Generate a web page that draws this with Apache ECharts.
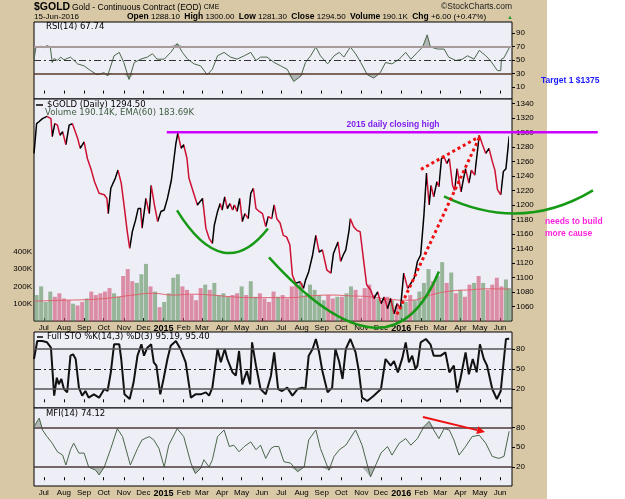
<!DOCTYPE html>
<html>
<head>
<meta charset="utf-8">
<script src="https://cdn.jsdelivr.net/npm/echarts@6/dist/echarts.min.js"></script>
<style>
  html, body { margin: 0; padding: 0; background: #fff; }
  #chart {
    width: 625px; height: 499px;
    background: linear-gradient(to right, #d8c8a6 0, #d8c8a6 547px, #ffffff 547px);
  }
</style>
</head>
<body>
<div id="chart"></div>
<script>
const DAY = 86400000
const BASE = Date.UTC(2014, 5, 16)   // day 0 = left edge of the plots
const day = d => BASE + d * DAY

const monthNames = ['Jan', 'Feb', 'Mar', 'Apr', 'May', 'Jun', 'Jul', 'Aug', 'Sep', 'Oct', 'Nov', 'Dec']
const monthTicks = []
for (let y = 2014, m = 6; y < 2016 || m <= 5;) {
  monthTicks.push(Date.UTC(y, m, 1))
  m++
  if (m > 11) { m = 0; y++ }
}

// [day offset, close]
const price = [
  [0, 1271], [4, 1312], [8, 1315], [13, 1319], [20, 1322], [26, 1319], [28, 1294], [32, 1312], [36, 1310], [40, 1296],
  [44, 1301], [49, 1283], [54, 1310], [59, 1312], [62, 1310], [67, 1292], [71, 1278], [74, 1280], [77, 1287], [82, 1264],
  [88, 1248], [93, 1232], [100, 1216], [108, 1214], [112, 1209], [114, 1188], [118, 1223], [125, 1237], [129, 1248], [134, 1230],
  [139, 1195], [143, 1165], [147, 1140], [151, 1163], [156, 1179], [160, 1195], [164, 1195], [166, 1168], [172, 1209], [177, 1188],
  [180, 1227], [185, 1200], [190, 1177], [195, 1191], [200, 1193], [205, 1209], [211, 1234], [218, 1285], [221, 1299], [226, 1278],
  [230, 1283], [235, 1264], [238, 1237], [246, 1214], [251, 1200], [259, 1209], [264, 1168], [269, 1154], [274, 1147], [277, 1172],
  [282, 1191], [286, 1202], [289, 1193], [293, 1211], [297, 1195], [301, 1202], [305, 1193], [308, 1200], [312, 1191], [316, 1209],
  [320, 1177], [324, 1188], [329, 1181], [333, 1216], [337, 1223], [341, 1195], [346, 1191], [351, 1188], [356, 1170], [360, 1184],
  [365, 1181], [369, 1200], [373, 1181], [378, 1175], [383, 1158], [388, 1156], [393, 1145], [397, 1103], [402, 1092], [409, 1094],
  [414, 1085], [417, 1096], [422, 1108], [428, 1131], [433, 1158], [438, 1135], [443, 1138], [450, 1110], [456, 1106], [460, 1133],
  [467, 1149], [471, 1122], [475, 1131], [479, 1138], [484, 1165], [486, 1181], [491, 1170], [496, 1165], [501, 1163], [506, 1126],
  [511, 1090], [517, 1083], [522, 1071], [528, 1080], [533, 1064], [538, 1073], [543, 1057], [548, 1071], [553, 1050], [558, 1064],
  [563, 1057], [568, 1106], [574, 1085], [579, 1092], [584, 1099], [589, 1122], [594, 1131], [599, 1186], [603, 1244], [607, 1200],
  [610, 1227], [614, 1211], [619, 1232], [622, 1225], [626, 1264], [630, 1266], [634, 1257], [638, 1264], [643, 1227], [646, 1220],
  [650, 1250], [656, 1218], [660, 1237], [663, 1250], [668, 1230], [672, 1248], [677, 1241], [684, 1296], [689, 1283], [694, 1271],
  [699, 1278], [704, 1260], [708, 1248], [712, 1221], [717, 1214], [721, 1246], [725, 1250], [730, 1294.5]
]

// weekly volume (thousands), Fridays from 20-Jun-2014, last bar 15-Jun-2016
const volumeK = [
  150, 200, 110, 170, 140, 160, 130, 120,
  100, 90, 110, 130, 170, 150, 160,
  170, 190, 160, 140, 260, 300,
  230, 220, 270, 330, 200, 170, 80,
  110, 160, 250, 270, 200, 180,
  150, 120, 190, 210, 180, 220, 150,
  160, 140, 150, 160, 200, 150, 230, 140, 160, 130,
  110, 170, 140, 150, 130, 200, 210,
  220, 150, 210, 180, 150, 120, 150, 130, 140,
  140, 160, 200, 180, 130, 190,
  210, 150, 130, 120, 140, 120, 90, 90,
  110, 150, 120, 170, 220, 300, 230, 260,
  340, 220, 280, 160, 180, 140, 210, 220,
  260, 220, 180, 210, 250, 200, 240, 190
]
const volumeDays = volumeK.map((v, i) => i < volumeK.length - 1 ? 4 + 7 * i : 730)

// EMA(60) of volume, thousands
const volEma = [
  [0, 115], [46, 120], [91, 125], [121, 135], [152, 150], [182, 160], [213, 150], [244, 155], [272, 150], [303, 140],
  [333, 135], [364, 135], [394, 135], [425, 145], [456, 150], [486, 145], [517, 140], [547, 125], [578, 120], [609, 150],
  [638, 172], [669, 180], [699, 186], [730, 184]
]

const rsi = [
  [0, 50], [3, 69], [10, 70], [15, 68], [20, 71], [25, 69], [28, 46], [31, 52], [36, 49], [41, 54], [46, 50], [51, 52],
  [56, 54], [67, 44], [77, 41], [87, 34], [97, 28], [108, 31], [113, 26], [123, 56], [131, 61], [138, 46], [146, 21],
  [154, 46], [164, 51], [174, 54], [182, 59], [189, 51], [200, 51], [210, 61], [220, 74], [228, 61], [236, 51], [246, 44],
  [256, 41], [266, 28], [274, 36], [282, 56], [292, 61], [302, 54], [312, 51], [323, 56], [333, 61], [341, 49], [348, 54],
  [358, 54], [369, 46], [379, 41], [389, 36], [399, 18], [410, 26], [417, 46], [425, 56], [433, 69], [440, 56], [451, 44],
  [461, 56], [469, 61], [476, 54], [486, 69], [494, 59], [502, 46], [512, 28], [522, 23], [532, 31], [540, 46], [550, 44],
  [561, 51], [571, 61], [579, 51], [589, 61], [597, 69], [604, 87], [609, 69], [620, 66], [630, 66], [637, 54], [648, 49],
  [658, 51], [666, 56], [676, 51], [684, 64], [694, 56], [701, 49], [712, 34], [717, 34], [718, 51], [722, 53], [730, 67.74]
]

const sto = [
  [0, 65], [5, 92], [13, 92], [20, 90], [26, 82], [28, 80], [31, 10], [35, 37], [38, 27], [42, 35], [46, 20], [51, 15],
  [56, 70], [60, 72], [64, 65], [69, 22], [74, 10], [79, 17], [84, 7], [92, 12], [100, 7], [108, 20], [113, 17], [118, 45],
  [123, 87], [131, 87], [134, 65], [139, 12], [147, 5], [153, 30], [159, 70], [165, 87], [169, 70], [174, 82], [180, 87],
  [184, 60], [188, 55], [194, 12], [199, 35], [205, 65], [210, 85], [218, 92], [225, 80], [233, 60], [241, 7], [248, 12],
  [256, 12], [264, 15], [269, 10], [274, 22], [282, 80], [287, 60], [293, 80], [297, 65], [305, 45], [310, 40], [315, 77],
  [320, 27], [327, 47], [332, 27], [335, 90], [341, 55], [348, 20], [356, 12], [364, 40], [369, 75], [375, 20], [381, 17],
  [389, 22], [397, 10], [405, 20], [412, 22], [417, 20], [422, 70], [428, 80], [433, 95], [438, 75], [443, 47], [451, 15],
  [458, 22], [463, 80], [469, 60], [474, 35], [479, 80], [486, 95], [494, 75], [499, 47], [504, 7], [512, 2], [522, 10],
  [533, 20], [540, 65], [548, 55], [553, 62], [559, 45], [566, 67], [571, 90], [576, 60], [581, 70], [586, 50], [589, 55],
  [594, 90], [602, 95], [609, 87], [614, 70], [625, 70], [632, 75], [638, 45], [645, 55], [650, 15], [655, 35], [663, 75],
  [668, 42], [674, 65], [680, 45], [685, 87], [691, 65], [696, 55], [704, 20], [711, 5], [717, 17], [725, 95], [730, 95.19]
]

const mfi = [
  [0, 81], [8, 94], [13, 76], [20, 66], [28, 56], [36, 43], [44, 38], [49, 23], [56, 46], [61, 56], [69, 41], [77, 41],
  [84, 20], [95, 15], [100, 8], [108, 20], [118, 48], [128, 78], [136, 66], [148, 23], [159, 48], [166, 61], [177, 66],
  [184, 61], [192, 48], [200, 20], [207, 53], [220, 78], [230, 66], [241, 26], [248, 10], [256, 18], [261, 31], [269, 20],
  [274, 31], [282, 66], [292, 76], [300, 51], [307, 53], [315, 43], [323, 51], [333, 58], [341, 46], [348, 53], [356, 33],
  [364, 48], [369, 51], [376, 51], [384, 28], [394, 26], [405, 13], [415, 20], [422, 61], [433, 76], [440, 48], [453, 15],
  [461, 36], [469, 46], [479, 53], [494, 76], [504, 53], [517, 5], [525, 23], [533, 41], [543, 51], [550, 38], [561, 56],
  [571, 63], [579, 53], [589, 63], [599, 81], [607, 89], [614, 76], [622, 63], [630, 78], [638, 76], [645, 61], [653, 38],
  [663, 51], [673, 66], [684, 68], [694, 56], [704, 36], [714, 33], [722, 36], [730, 74.12]
]

const toTime = arr => arr.map(p => [day(p[0]), p[1]])

function closeAt(d) {
  let v = price[0][1]
  for (const p of price) {
    if (p[0] <= d) v = p[1]
    else break
  }
  return v
}
const volumeColors = volumeDays.map((d, i) =>
  i > 0 && closeAt(d) < closeAt(volumeDays[i - 1]) ? 'rgba(205,80,115,0.62)' : 'rgba(95,145,95,0.62)')

// up moves drawn black, down moves red
const pricePieces = [{ lte: day(price[0][0]), color: '#000' }]
for (let i = 1; i < price.length; i++) {
  pricePieces.push({
    gt: day(price[i - 1][0]),
    lte: day(price[i][0]),
    color: price[i][1] >= price[i - 1][1] ? '#000' : '#cc1133'
  })
}

const chart = echarts.init(document.getElementById('chart'))

const gridBox = { left: 34, width: 478, show: true, backgroundColor: '#eeeef7', borderColor: '#000', borderWidth: 1 }
const tickStyle = { show: true, length: 3, lineStyle: { color: '#000' } }
const labelFont = { fontFamily: 'Liberation Sans', fontSize: 8, color: '#000' }

const dashDot = [7, 3, 2, 3]
const refLine = (value, color, width, type) => ({ yAxis: value, lineStyle: { color, width, type: type || 'solid' } })
const refLines = data => ({ silent: true, symbol: 'none', label: { show: false }, animation: false, data })

const opts = {
  animation: false,
  textStyle: { fontFamily: 'Liberation Sans' },
  grid: [
    Object.assign({ top: 22, height: 77 }, gridBox),
    Object.assign({ top: 99, height: 222 }, gridBox),
    Object.assign({ top: 332, height: 76 }, gridBox),
    Object.assign({ top: 408, height: 78 }, gridBox)
  ],
  xAxis: [0, 1, 2, 3].map(i => ({
    type: 'value',
    gridIndex: i,
    min: day(0),
    max: day(734.3),
    axisLine: { show: false },
    splitLine: { show: false },
    axisTick: Object.assign({ inside: true, customValues: monthTicks }, tickStyle),
    axisLabel: Object.assign({
      show: i === 1 || i === 3,
      customValues: monthTicks,
      margin: 3,
      formatter: v => {
        const dt = new Date(v)
        const m = dt.getUTCMonth()
        return m === 0 ? '{yr|' + dt.getUTCFullYear() + '}' : monthNames[m]
      },
      rich: { yr: { fontFamily: 'Liberation Sans', fontWeight: 'bold', fontSize: 9, color: '#000' } }
    }, labelFont)
  })),
  yAxis: [
    { gridIndex: 0, position: 'right', min: -8, max: 106, customValues: [10, 30, 50, 70, 90] },
    { gridIndex: 1, position: 'left', min: 0, max: 1283000, customValues: [100000, 200000, 300000, 400000], fmt: v => v / 1000 + 'K' },
    { gridIndex: 1, position: 'right', min: 1040, max: 1346,
      customValues: [1060, 1080, 1100, 1120, 1140, 1160, 1180, 1200, 1220, 1240, 1260, 1280, 1300, 1320, 1340] },
    { gridIndex: 2, position: 'right', min: -8.5, max: 105.5, customValues: [20, 50, 80] },
    { gridIndex: 3, position: 'right', min: -8.7, max: 109.2, customValues: [20, 50, 80] }
  ].map(a => ({
    type: 'value',
    gridIndex: a.gridIndex,
    position: a.position,
    min: a.min,
    max: a.max,
    splitLine: { show: false },
    axisLine: { show: false },
    axisTick: Object.assign({ customValues: a.customValues }, tickStyle, { show: a.position === 'right' }),
    axisLabel: Object.assign({
      customValues: a.customValues,
      margin: a.position === 'right' ? 4 : 2,
      formatter: a.fmt || (v => String(v))
    }, labelFont)
  })),
  visualMap: [{
    show: false,
    type: 'piecewise',
    seriesIndex: 2,
    dimension: 0,
    pieces: pricePieces
  }],
  series: [
    {
      type: 'bar', xAxisIndex: 1, yAxisIndex: 1, barWidth: 4,
      data: volumeDays.map((d, i) => ({ value: [day(d), volumeK[i] * 1000], itemStyle: { color: volumeColors[i] } }))
    },
    {
      type: 'line', xAxisIndex: 1, yAxisIndex: 1, showSymbol: false, smooth: true,
      data: volEma.map(p => [day(p[0]), p[1] * 1000]),
      lineStyle: { color: '#e0606c', width: 1 }
    },
    {
      type: 'line', xAxisIndex: 1, yAxisIndex: 2, showSymbol: false, z: 5,
      data: toTime(price),
      lineStyle: { width: 1.5 }
    },
    {
      type: 'line', xAxisIndex: 0, yAxisIndex: 0, showSymbol: false, silent: true,
      data: rsi.map(p => [day(p[0]), Math.min(p[1], 30)]),
      lineStyle: { width: 0 }, areaStyle: { origin: 30, color: 'rgba(80,100,80,0.55)' }
    },
    {
      type: 'line', xAxisIndex: 0, yAxisIndex: 0, showSymbol: false, silent: true,
      data: rsi.map(p => [day(p[0]), Math.max(p[1], 70)]),
      lineStyle: { width: 0 }, areaStyle: { origin: 70, color: 'rgba(80,100,80,0.55)' }
    },
    {
      type: 'line', xAxisIndex: 0, yAxisIndex: 0, showSymbol: false, z: 4,
      data: toTime(rsi),
      lineStyle: { color: '#4a664a', width: 1 },
      markLine: refLines([
        refLine(70, '#a89a9a', 2),
        refLine(30, '#5a3a2a', 1.5),
        refLine(50, '#333', 1, dashDot)
      ])
    },
    {
      type: 'line', xAxisIndex: 2, yAxisIndex: 3, showSymbol: false, z: 4,
      data: toTime(sto),
      lineStyle: { color: '#111', width: 2 },
      markLine: refLines([
        refLine(80, '#555', 1.5),
        refLine(20, '#555', 1.5),
        refLine(50, '#222', 1, dashDot)
      ])
    },
    {
      type: 'line', xAxisIndex: 3, yAxisIndex: 4, showSymbol: false, silent: true,
      data: mfi.map(p => [day(p[0]), Math.min(p[1], 20)]),
      lineStyle: { width: 0 }, areaStyle: { origin: 20, color: 'rgba(80,100,80,0.55)' }
    },
    {
      type: 'line', xAxisIndex: 3, yAxisIndex: 4, showSymbol: false, silent: true,
      data: mfi.map(p => [day(p[0]), Math.max(p[1], 80)]),
      lineStyle: { width: 0 }, areaStyle: { origin: 80, color: 'rgba(80,100,80,0.55)' }
    },
    {
      type: 'line', xAxisIndex: 3, yAxisIndex: 4, showSymbol: false, z: 4,
      data: toTime(mfi),
      lineStyle: { color: '#4a664a', width: 1 },
      markLine: refLines([
        refLine(80, '#4a3a3a', 1.5),
        refLine(20, '#4a3a3a', 1.5)
      ])
    }
  ]
}
chart.setOption(opts)

// annotations, anchored in data terms (day offset, price / MFI value)
const closingHigh = { from: [204, 1300], to: [866, 1300] }
const rounds = [
  [[219.7, 1192.4], [290.3, 1134.5], [359.4, 1167.6]],
  [[361, 1127.6], [519.2, 1031], [622, 1108.3]],
  [[629.8, 1211.8], [746.5, 1188.3], [858.7, 1220]]
]
const redDots = [
  [[557.6, 1049], [685, 1294.5]],
  [[594.5, 1249], [685, 1294.5]]
]
const mfiArrow = [[597.5, 95.6], [692.8, 72.9]]

const P = (d, v) => chart.convertToPixel({ seriesIndex: 2 }, [day(d), v])
const M = (d, v) => chart.convertToPixel({ seriesIndex: 9 }, [day(d), v])

const txt = (x, y, text, font, fill, extra) => ({
  type: 'text', z: 20,
  style: Object.assign({ x, y, text, font, fill, textVerticalAlign: 'middle' }, extra || {})
})
const bold = size => 'bold ' + size + 'px "Liberation Sans"'
const plain = size => size + 'px "Liberation Sans"'
const legend = '8.5px "DejaVu Sans"'

const g = []
// header
g.push(txt(34, 7, '$GOLD', bold(10.5), '#000'))
g.push(txt(72, 7.5, 'Gold - Continuous Contract (EOD) {s|CME}', plain(8.5), '#000',
  { rich: { s: { fontSize: 7, fontFamily: 'Liberation Sans' } } }))
g.push(txt(34, 17, '15-Jun-2016', plain(8), '#000'))
g.push(txt(127, 17,
  '{b|Open} 1288.10  {b|High} 1300.00  {b|Low} 1281.30  {b|Close} 1294.50  {b|Volume} 190.1K  {b|Chg} +6.00 (+0.47%)',
  plain(8), '#000', { rich: { b: { fontWeight: 'bold', fontSize: 8.5, fontFamily: 'Liberation Sans' } } }))
g.push(txt(512, 7, '\u00a9StockCharts.com', plain(8.5), '#222', { textAlign: 'right' }))
g.push(txt(507, 17.5, '\u25b2', plain(6), '#2a9a2a'))
// panel legends
g.push(txt(46, 26.5, 'RSI(14) 67.74', legend, '#000'))
g.push({ type: 'line', z: 20, shape: { x1: 36, y1: 105, x2: 43, y2: 105 }, style: { stroke: '#000', lineWidth: 1.5 } })
g.push(txt(47, 105, '$GOLD (Daily) 1294.50', legend, '#000'))
g.push(txt(45, 113, 'Volume 190.14K, EMA(60) 183.69K', legend, '#3d5c3d'))
g.push({ type: 'line', z: 20, shape: { x1: 37, y1: 337, x2: 43, y2: 337 }, style: { stroke: '#000', lineWidth: 1.5 } })
g.push(txt(47, 337, 'Full STO %K(14,3) %D(3) 95.19, 95.40', legend, '#000'))
g.push(txt(46, 413.5, 'MFI(14) 74.12', legend, '#000'))

// 2015 closing high
const a = P(...closingHigh.from), b = P(...closingHigh.to)
g.push({ type: 'line', z: 15, shape: { x1: a[0], y1: a[1], x2: b[0], y2: b[1] }, style: { stroke: '#cc00ff', lineWidth: 2.5 } })
const ct = P(551.5, 1311)
g.push(txt(ct[0], ct[1], '2015 daily closing high', bold(8.5), '#7f1fef', { textAlign: 'center' }))

// rounding bottoms
rounds.forEach(r => {
  const s = P(...r[0]), m = P(...r[1]), e = P(...r[2])
  g.push({
    type: 'bezierCurve', z: 15,
    shape: { x1: s[0], y1: s[1], x2: e[0], y2: e[1], cpx1: 2 * m[0] - (s[0] + e[0]) / 2, cpy1: 2 * m[1] - (s[1] + e[1]) / 2 },
    style: { stroke: '#169a16', lineWidth: 2.5, fill: null }
  })
})

// dotted trend lines
redDots.forEach(l => {
  const s = P(...l[0]), e = P(...l[1])
  g.push({ type: 'line', z: 16, shape: { x1: s[0], y1: s[1], x2: e[0], y2: e[1] }, style: { stroke: '#ee1111', lineWidth: 3, lineDash: [3, 3] } })
})

// MFI divergence arrow
const as = M(...mfiArrow[0]), ae = M(...mfiArrow[1])
const ang = Math.atan2(ae[1] - as[1], ae[0] - as[0])
const hl = 8, hw = 4
const bx = ae[0] - hl * Math.cos(ang), by = ae[1] - hl * Math.sin(ang)
g.push({ type: 'line', z: 16, shape: { x1: as[0], y1: as[1], x2: bx, y2: by }, style: { stroke: '#ee1111', lineWidth: 2 } })
g.push({
  type: 'polygon', z: 16,
  shape: { points: [ae, [bx + hw * Math.sin(ang), by - hw * Math.cos(ang)], [bx - hw * Math.sin(ang), by + hw * Math.cos(ang)]] },
  style: { fill: '#ee1111' }
})

// right-hand notes
const tg = P(778.8, 1371)
g.push(txt(tg[0], tg[1], 'Target 1 $1375', bold(8.5), '#1a1aff'))
const n1 = P(785, 1177), n2 = P(785, 1160.7)
g.push(txt(n1[0], n1[1], 'needs to build', bold(8.5), '#ff22dd'))
g.push(txt(n2[0], n2[1], 'more cause', bold(8.5), '#ff22dd'))

chart.setOption({ graphic: g })
</script>
</body>
</html>
